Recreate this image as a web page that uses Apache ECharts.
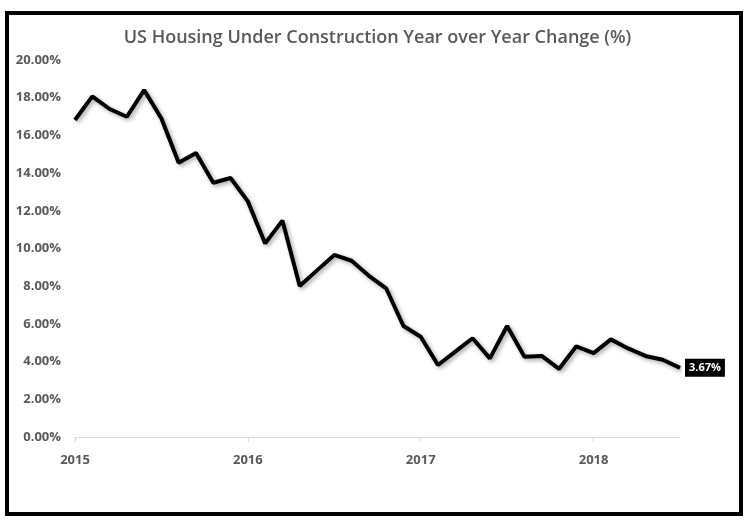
<!DOCTYPE html>
<html>
<head>
<meta charset="utf-8">
<script src="https://cdn.jsdelivr.net/npm/echarts@6/dist/echarts.min.js"></script>
<style>
html,body{margin:0;padding:0;background:#fff;}
#chart{width:755px;height:527px;}
</style>
</head>
<body>
<div id="chart"></div>
<script>
const titleText = 'US Housing Under Construction Year over Year Change (%)';
const months = [
  '2015-07','2015-08','2015-09','2015-10','2015-11','2015-12',
  '2016-01','2016-02','2016-03','2016-04','2016-05','2016-06',
  '2016-07','2016-08','2016-09','2016-10','2016-11','2016-12',
  '2017-01','2017-02','2017-03','2017-04','2017-05','2017-06',
  '2017-07','2017-08','2017-09','2017-10','2017-11','2017-12',
  '2018-01','2018-02','2018-03','2018-04','2018-05','2018-06'
];
const yoyChange = [
  16.82, 18.07, 17.40, 16.99, 18.40, 16.90,
  14.55, 15.07, 13.49, 13.74, 12.50, 10.27,
  11.48, 8.01, 8.84, 9.66, 9.35, 8.55,
  7.89, 5.89, 5.32, 3.82, 4.53, 5.24,
  4.17, 5.89, 4.26, 4.30, 3.61, 4.81,
  4.45, 5.18, 4.70, 4.30, 4.10, 3.67
];
const yMin = 0, yMax = 20, yStep = 2;

const chart = echarts.init(document.getElementById('chart'), null, {renderer: 'canvas'});
const fontFam = '"Open Sans", "Noto Sans", sans-serif';
chart.setOption({
  animation: false,
  backgroundColor: '#fff',
  title: {
    text: titleText,
    left: 'center',
    top: 24,
    textStyle: {fontFamily: fontFam, fontSize: 18, fontWeight: 600, color: '#595959'}
  },
  grid: {left: 75, right: 75, top: 60, bottom: 90, containLabel: false},
  xAxis: {
    type: 'category',
    data: months,
    boundaryGap: false,
    axisLine: {lineStyle: {color: '#d9d9d9', width: 1}},
    axisTick: {show: true, interval: 9, length: 5, lineStyle: {color: '#d9d9d9'}},
    axisLabel: {
      interval: 9,
      margin: 17,
      color: '#595959',
      fontFamily: fontFam,
      fontSize: 13,
      fontWeight: 'bold',
      formatter: v => v.slice(0, 4)
    },
    splitLine: {show: false}
  },
  yAxis: {
    type: 'value',
    min: yMin, max: yMax, interval: yStep,
    axisLine: {show: false},
    axisTick: {show: false},
    splitLine: {show: false},
    axisLabel: {
      margin: 14,
      color: '#595959',
      fontFamily: fontFam,
      fontSize: 13,
      fontWeight: 'bold',
      formatter: v => v.toFixed(2) + '%'
    }
  },
  series: [{
    type: 'line',
    data: yoyChange,
    showSymbol: false,
    symbol: 'none',
    lineStyle: {
      color: '#000', width: 4,
      shadowColor: 'rgba(0,0,0,0.35)', shadowBlur: 4, shadowOffsetX: 2, shadowOffsetY: 2
    },
    endLabel: {
      show: true,
      distance: 5,
      formatter: p => p.value.toFixed(2) + '%',
      backgroundColor: '#000',
      color: '#fff',
      fontFamily: fontFam,
      fontSize: 11,
      fontWeight: 'bold',
      padding: [4, 4, 3, 4]
    }
  }],
  graphic: [{
    type: 'rect',
    shape: {x: 7, y: 13, width: 734, height: 501},
    style: {fill: 'none', stroke: '#000', lineWidth: 4},
    silent: true
  }]
});
</script>
</body>
</html>
